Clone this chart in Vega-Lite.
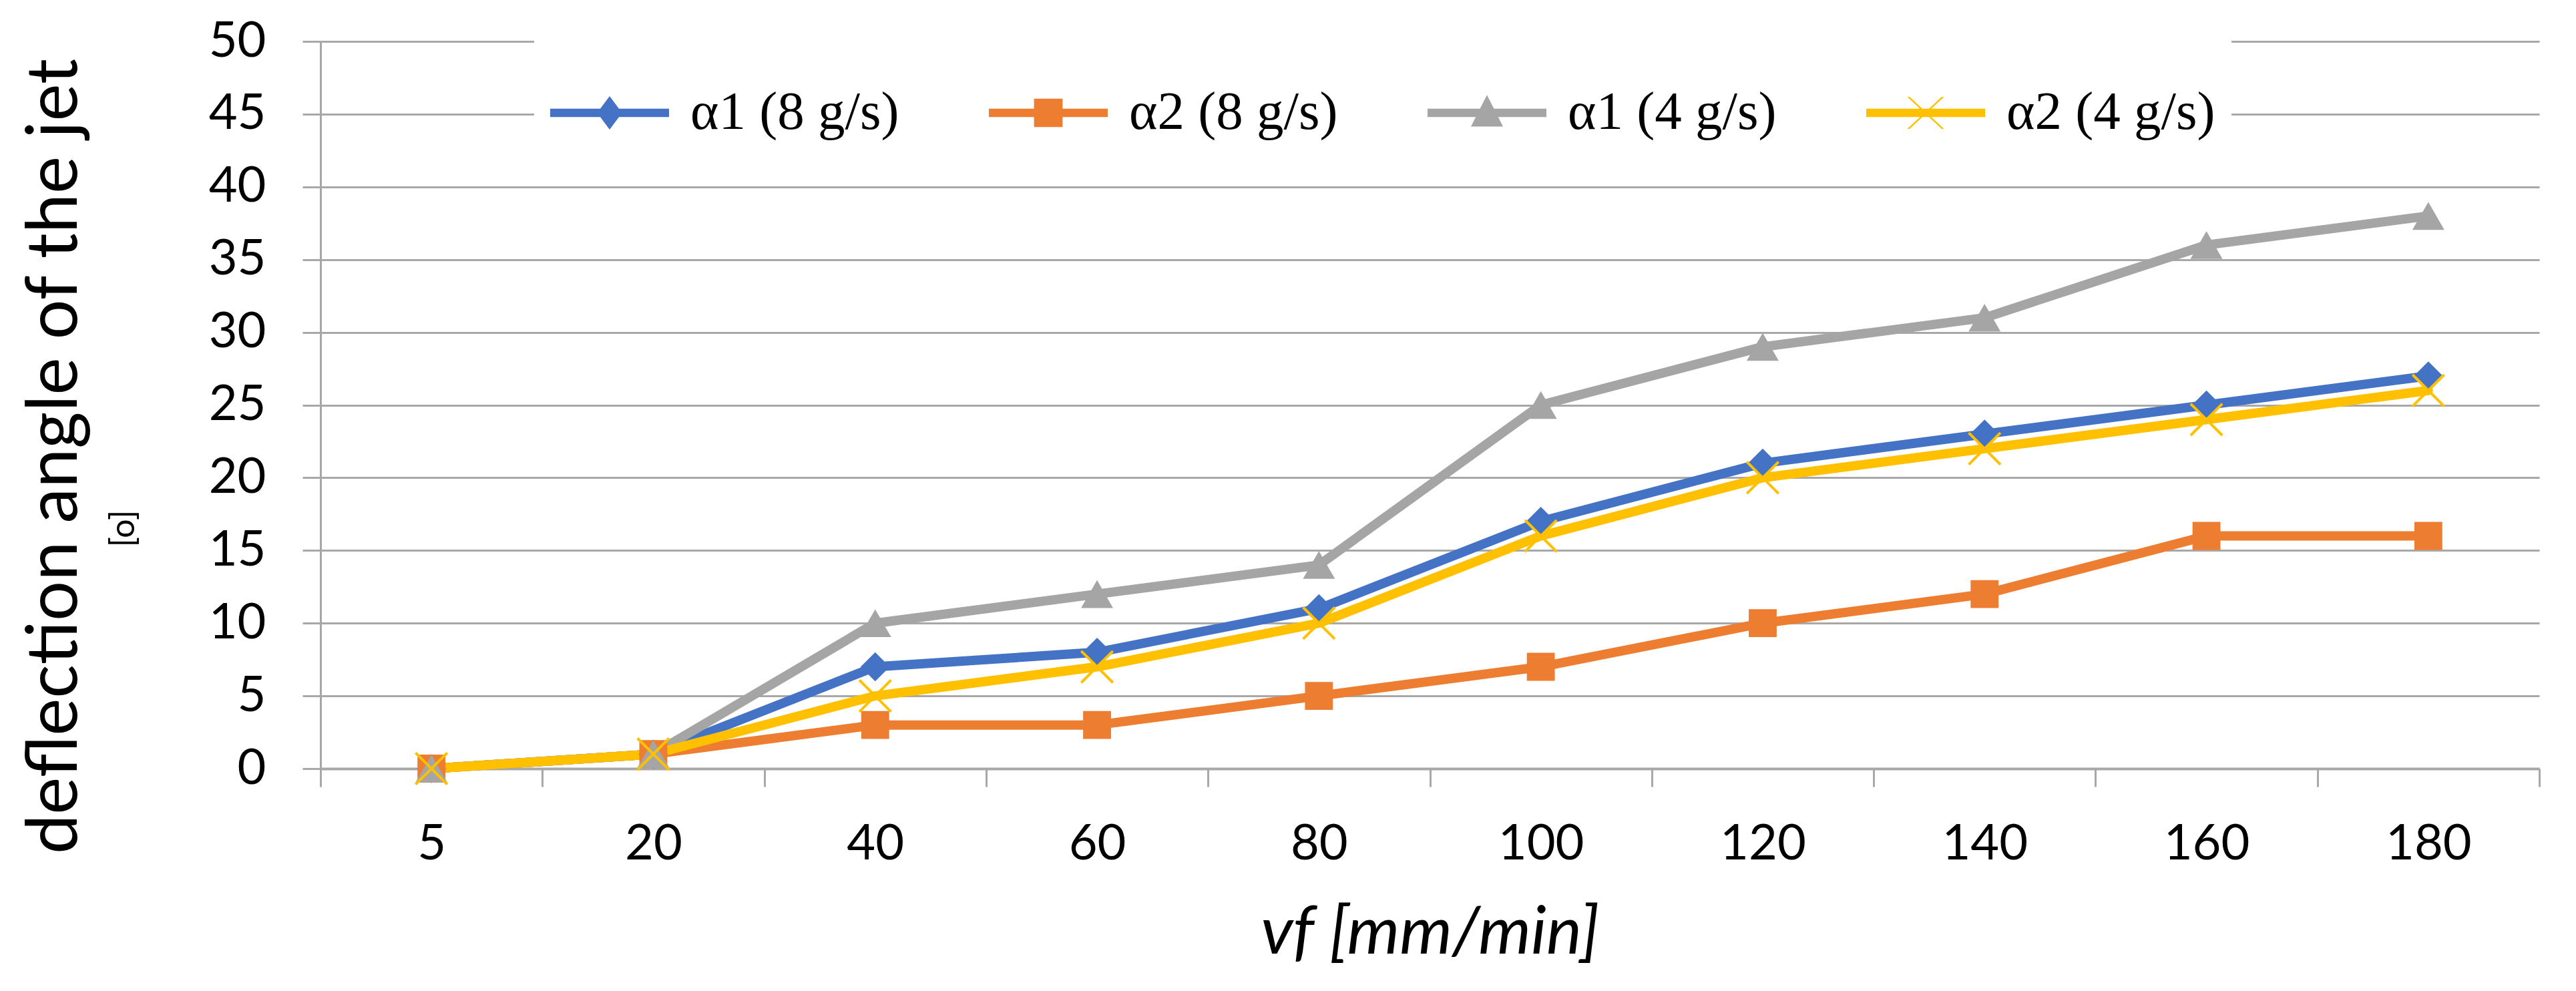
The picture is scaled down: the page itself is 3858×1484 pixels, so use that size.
{
  "$schema": "https://vega.github.io/schema/vega-lite/v6.json",
  "width": 3323,
  "height": 1089,
  "autosize": "none",
  "padding": {"left": 480, "top": 62, "right": 55, "bottom": 333},
  "background": "white",
  "data": {
    "values": [
      {"vf": 5, "series": "α1 (8 g/s)", "angle": 0},
      {"vf": 20, "series": "α1 (8 g/s)", "angle": 1},
      {"vf": 40, "series": "α1 (8 g/s)", "angle": 7},
      {"vf": 60, "series": "α1 (8 g/s)", "angle": 8},
      {"vf": 80, "series": "α1 (8 g/s)", "angle": 11},
      {"vf": 100, "series": "α1 (8 g/s)", "angle": 17},
      {"vf": 120, "series": "α1 (8 g/s)", "angle": 21},
      {"vf": 140, "series": "α1 (8 g/s)", "angle": 23},
      {"vf": 160, "series": "α1 (8 g/s)", "angle": 25},
      {"vf": 180, "series": "α1 (8 g/s)", "angle": 27},
      {"vf": 5, "series": "α2 (8 g/s)", "angle": 0},
      {"vf": 20, "series": "α2 (8 g/s)", "angle": 1},
      {"vf": 40, "series": "α2 (8 g/s)", "angle": 3},
      {"vf": 60, "series": "α2 (8 g/s)", "angle": 3},
      {"vf": 80, "series": "α2 (8 g/s)", "angle": 5},
      {"vf": 100, "series": "α2 (8 g/s)", "angle": 7},
      {"vf": 120, "series": "α2 (8 g/s)", "angle": 10},
      {"vf": 140, "series": "α2 (8 g/s)", "angle": 12},
      {"vf": 160, "series": "α2 (8 g/s)", "angle": 16},
      {"vf": 180, "series": "α2 (8 g/s)", "angle": 16},
      {"vf": 5, "series": "α1 (4 g/s)", "angle": 0},
      {"vf": 20, "series": "α1 (4 g/s)", "angle": 1},
      {"vf": 40, "series": "α1 (4 g/s)", "angle": 10},
      {"vf": 60, "series": "α1 (4 g/s)", "angle": 12},
      {"vf": 80, "series": "α1 (4 g/s)", "angle": 14},
      {"vf": 100, "series": "α1 (4 g/s)", "angle": 25},
      {"vf": 120, "series": "α1 (4 g/s)", "angle": 29},
      {"vf": 140, "series": "α1 (4 g/s)", "angle": 31},
      {"vf": 160, "series": "α1 (4 g/s)", "angle": 36},
      {"vf": 180, "series": "α1 (4 g/s)", "angle": 38},
      {"vf": 5, "series": "α2 (4 g/s)", "angle": 0},
      {"vf": 20, "series": "α2 (4 g/s)", "angle": 1},
      {"vf": 40, "series": "α2 (4 g/s)", "angle": 5},
      {"vf": 60, "series": "α2 (4 g/s)", "angle": 7},
      {"vf": 80, "series": "α2 (4 g/s)", "angle": 10},
      {"vf": 100, "series": "α2 (4 g/s)", "angle": 16},
      {"vf": 120, "series": "α2 (4 g/s)", "angle": 20},
      {"vf": 140, "series": "α2 (4 g/s)", "angle": 22},
      {"vf": 160, "series": "α2 (4 g/s)", "angle": 24},
      {"vf": 180, "series": "α2 (4 g/s)", "angle": 26}
    ]
  },
  "encoding": {
    "x": {
      "field": "vf",
      "type": "ordinal",
      "scale": {"type": "band", "paddingInner": 0, "paddingOuter": 0},
      "axis": {
        "tickBand": "extent",
        "labelAngle": 0,
        "grid": false,
        "domain": true,
        "domainColor": "#A8A8A8",
        "domainWidth": 4,
        "ticks": true,
        "tickSize": 27,
        "tickColor": "#A8A8A8",
        "tickWidth": 3,
        "labelFont": "Lato",
        "labelFontSize": 74,
        "labelColor": "black",
        "labelPadding": 50,
        "title": "vf [mm/min]",
        "titleFont": "Lato",
        "titleFontStyle": "italic",
        "titleFontWeight": "normal",
        "titleFontSize": 100,
        "titleColor": "black",
        "titleBaseline": "alphabetic",
        "titleY": 276
      }
    },
    "color": {
      "field": "series",
      "type": "nominal",
      "scale": {
        "domain": ["α1 (8 g/s)", "α2 (8 g/s)", "α1 (4 g/s)", "α2 (4 g/s)"],
        "range": ["#4472C4", "#ED7D31", "#A5A5A5", "#FFC000"]
      },
      "legend": {
        "title": null,
        "orient": "none",
        "legendX": 320,
        "legendY": -6,
        "direction": "horizontal",
        "columns": 4,
        "fillColor": "white",
        "padding": 24,
        "symbolSize": 31684,
        "symbolType": "M-1,0H1",
        "symbolStrokeWidth": 13,
        "symbolOpacity": 1,
        "labelFont": "Liberation Serif",
        "labelFontSize": 81,
        "labelColor": "black",
        "labelLimit": 1000,
        "labelOffset": 32,
        "columnPadding": 134,
        "encoding": {
          "symbols": {
            "shape": {"value": {"expr": "datum.value === 'α1 (8 g/s)' ? 'M-1,-0.07H1V0.07H-1Z M0,-0.28L0.21,0L0,0.28L-0.21,0Z' : datum.value === 'α2 (8 g/s)' ? 'M-1,-0.07H1V0.07H-1Z M-0.24,-0.24H0.24V0.24H-0.24Z' : datum.value === 'α1 (4 g/s)' ? 'M-1,-0.07H1V0.07H-1Z M0,-0.3L0.27,0.23H-0.27Z' : 'M-1,-0.07H1V0.07H-1Z M-0.31,-0.27L-0.27,-0.27L0.31,0.27L0.27,0.27Z M0.27,-0.27L0.31,-0.27L-0.27,0.27L-0.31,0.27Z'"}},
            "fill": {"value": {"expr": "scale('color', datum.value)"}},
            "stroke": {"value": "transparent"},
            "strokeWidth": {"value": 0}
          }
        }
      }
    }
  },
  "layer": [
    {
      "mark": {"type": "line", "strokeWidth": 14, "strokeJoin": "round", "strokeCap": "round"},
      "encoding": {
        "y": {
          "field": "angle",
          "type": "quantitative",
          "scale": {"domain": [0, 50], "nice": false},
          "axis": {
            "values": [0, 5, 10, 15, 20, 25, 30, 35, 40, 45, 50],
            "grid": true,
            "gridColor": "#A8A8A8",
            "gridWidth": 3,
            "domain": true,
            "domainColor": "#A6A6A6",
            "domainWidth": 3,
            "ticks": true,
            "tickSize": 27,
            "tickColor": "#A8A8A8",
            "tickWidth": 3,
            "labelFont": "Lato",
            "labelFontSize": 74,
            "labelColor": "black",
            "labelPadding": 55,
            "title": "[o]",
            "titleFont": "Lato",
            "titleFontSize": 50,
            "titleFontWeight": "normal",
            "titleColor": "black",
            "titleAngle": -90,
            "titleAlign": "center",
            "titleBaseline": "alphabetic",
            "titleX": -280,
            "titleY": 729
          }
        }
      }
    },
    {
      "transform": [{"filter": "datum.series === 'α1 (8 g/s)'"}],
      "mark": {"type": "point", "shape": "diamond", "filled": true, "opacity": 1, "size": 1900},
      "encoding": {
        "y": {
          "field": "angle",
          "type": "quantitative",
          "axis": {
            "orient": "left",
            "grid": false,
            "domain": false,
            "ticks": false,
            "labels": false,
            "title": "deflection angle of the jet",
            "titleFont": "Lato",
            "titleFontSize": 106,
            "titleFontWeight": "normal",
            "titleColor": "black",
            "titleAngle": -90,
            "titleAlign": "center",
            "titleBaseline": "alphabetic",
            "titleX": -366,
            "titleY": 621
          }
        }
      }
    },
    {
      "transform": [{"filter": "datum.series === 'α2 (8 g/s)'"}],
      "mark": {"type": "point", "shape": "square", "filled": true, "opacity": 1, "size": 1750},
      "encoding": {
        "y": {"field": "angle", "type": "quantitative", "axis": null}
      }
    },
    {
      "transform": [{"filter": "datum.series === 'α1 (4 g/s)'"}],
      "mark": {"type": "point", "shape": "triangle-up", "filled": true, "opacity": 1, "size": 2300},
      "encoding": {
        "y": {"field": "angle", "type": "quantitative", "axis": null}
      }
    },
    {
      "transform": [{"filter": "datum.series === 'α2 (4 g/s)'"}],
      "mark": {"type": "point", "shape": "M-1.15,-1.15L1.15,1.15M-1.15,1.15L1.15,-1.15", "filled": false, "opacity": 1, "size": 1700, "strokeWidth": 4},
      "encoding": {
        "y": {"field": "angle", "type": "quantitative", "axis": null}
      }
    }
  ],
  "resolve": {"axis": {"y": "independent"}},
  "config": {
    "view": {"stroke": null},
    "font": "Lato"
  }
}
